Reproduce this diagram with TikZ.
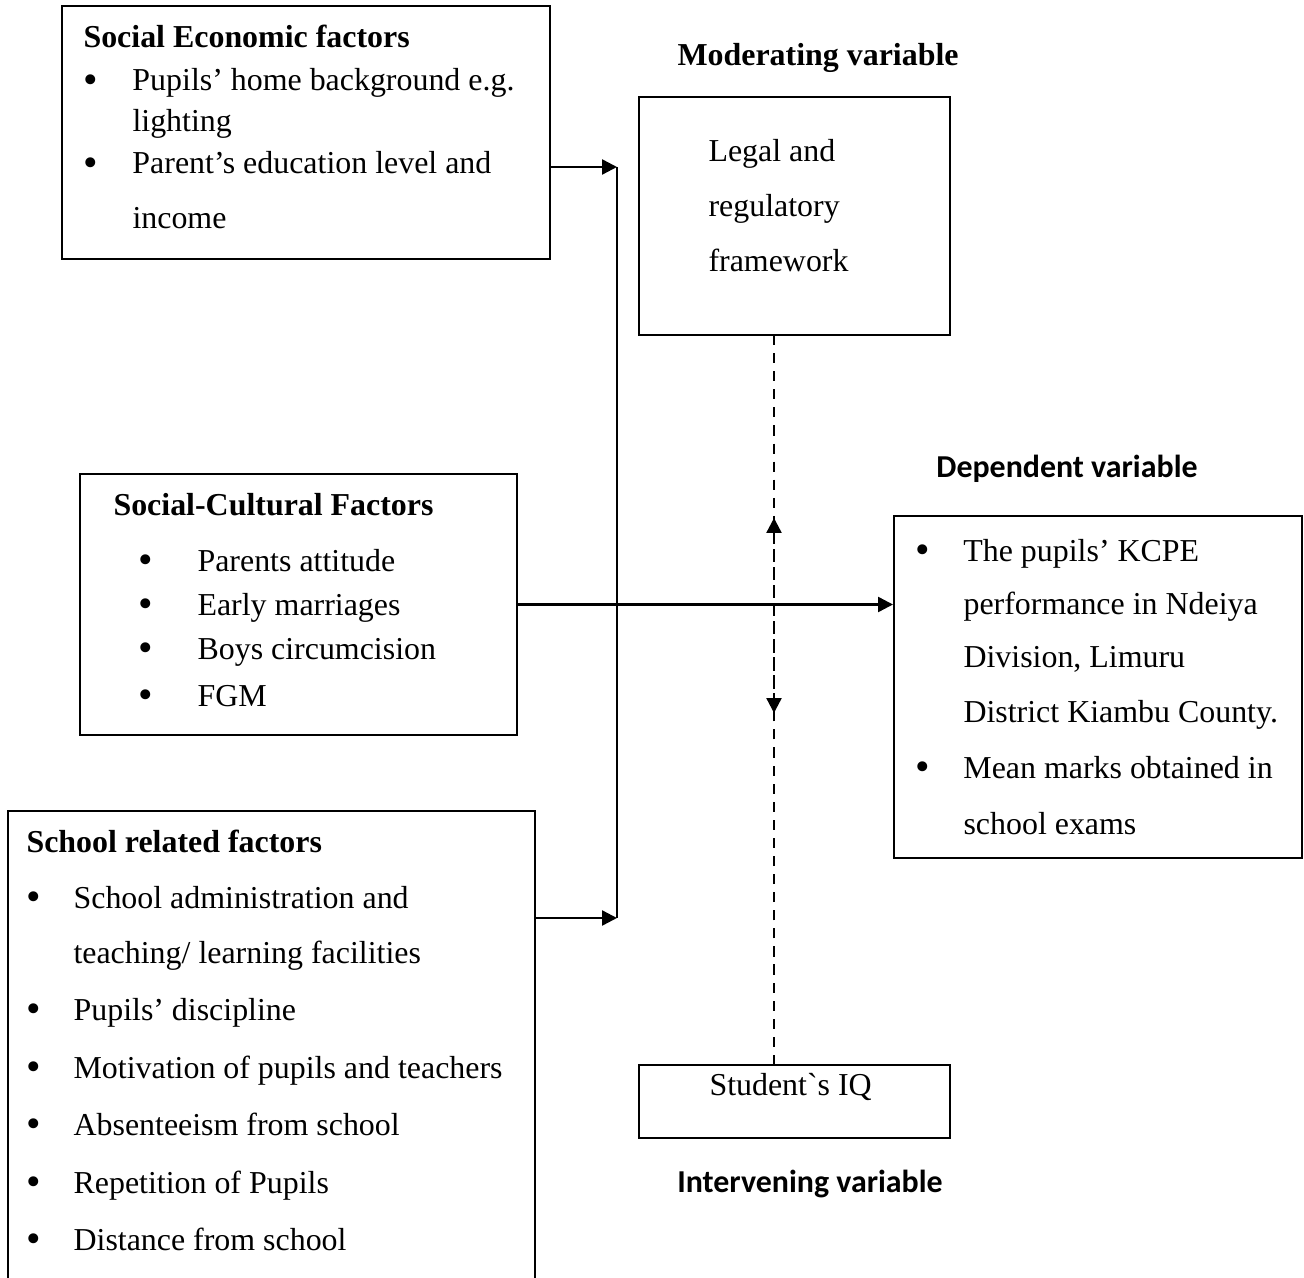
\documentclass[tikz,border=0pt]{standalone}
\usepackage{fontspec}
\usepackage{graphicx}
\setmainfont{Liberation Serif}
\newfontfamily\calibrifont{Carlito}
\usetikzlibrary{arrows.meta, fit, positioning}

% bullet followed by a fixed gap
\newcommand{\dotgap}[1]{\makebox[#1][l]{\raisebox{-1pt}{\scalebox{1.3}{\textbullet}}}}

\begin{document}
\begin{tikzpicture}[x=0.376pt, y=-0.376pt,
    >={Triangle[length=5.6pt, width=5.6pt]},
    box/.style={draw, line width=0.75pt, inner sep=0pt},
    txt/.style={anchor=base west, inner sep=0pt, font=\fontsize{12}{14}\selectfont},
    head/.style={txt, font=\fontsize{12}{14}\selectfont\bfseries},
    varlbl/.style={anchor=base, inner sep=0pt, font=\fontsize{12}{14}\selectfont\calibrifont\bfseries},
    conn/.style={line width=0.9pt},
    dashline/.style={conn, dash pattern=on 3.8pt off 3pt}]
    \path[use as bounding box, clip] (0,0) rectangle (1304,1278);

    % 1. Independent variables (left column)
    \node[box, fit={(62,6) (550,259)}] (socecon) {};
    \node[head] (socecon-t) at (83,48) {Social Economic factors};
    \node[txt] (socecon-a) at (83,91) {\dotgap{18.4pt}Pupils’ home background e.g.};
    \node[txt] (socecon-b) at (132,132) {lighting};
    \node[txt] (socecon-c) at (83,174) {\dotgap{18.4pt}Parent’s education level and};
    \node[txt] (socecon-d) at (132,229) {income};

    \node[box, fit={(80,474) (517,735)}] (soccult) {};
    \node[head] (soccult-t) at (113,515) {Social-Cultural Factors};
    \node[txt] (soccult-a) at (138,571) {\dotgap{22.2pt}Parents attitude};
    \node[txt] (soccult-b) at (138,615) {\dotgap{22.2pt}Early marriages};
    \node[txt] (soccult-c) at (138,659) {\dotgap{22.2pt}Boys circumcision};
    \node[txt] (soccult-d) at (138,706) {\dotgap{22.2pt}FGM};

    \node[box, fit={(8,811) (535,1300)}] (school) {};
    \node[head] (school-t) at (26,852) {School related factors};
    \node[txt] (school-a) at (26,908) {\dotgap{17.7pt}School administration and};
    \node[txt] (school-b) at (73,963) {teaching/ learning facilities};
    \node[txt] (school-c) at (26,1020) {\dotgap{17.7pt}Pupils’ discipline};
    \node[txt] (school-d) at (26,1078) {\dotgap{17.7pt}Motivation of pupils and teachers};
    \node[txt] (school-e) at (26,1135) {\dotgap{17.7pt}Absenteeism from school};
    \node[txt] (school-f) at (26,1193) {\dotgap{17.7pt}Repetition of Pupils};
    \node[txt] (school-g) at (26,1250) {\dotgap{17.7pt}Distance from school};

    % 2. Moderating and intervening variables (middle column)
    \node[head] (modlbl) at (677,66) {Moderating variable};
    \node[box, fit={(639,97) (950,335)}] (legal) {};
    \node[txt] (legal-a) at (708,162) {Legal and};
    \node[txt] (legal-b) at (708,217) {regulatory};
    \node[txt] (legal-c) at (708,272) {framework};

    \node[box, fit={(639,1065) (950,1138)}] (iq) {};
    \node[txt] (iq-a) at (709,1095) {Student\textasciigrave s IQ};
    \node[varlbl] (ivlbl) at (810,1192) {Intervening variable};

    % 3. Dependent variable (right column)
    \node[varlbl] (deplbl) at (1067,477) {Dependent variable};
    \node[box, fit={(894,516) (1302,858)}] (dep) {};
    \node[txt] (dep-a) at (915,561) {\dotgap{18pt}The pupils’ KCPE};
    \node[txt] (dep-b) at (963,614) {performance in Ndeiya};
    \node[txt] (dep-c) at (963,667) {Division, Limuru};
    \node[txt] (dep-d) at (963,722) {District Kiambu County.};
    \node[txt] (dep-e) at (915,778) {\dotgap{18pt}Mean marks obtained in};
    \node[txt] (dep-f) at (963,834) {school exams};

    % 4. Connectors
    \coordinate (bustop) at (617,167);
    \coordinate (busbot) at (617,918);
    \draw[conn, ->] (socecon.east |- bustop) -- (bustop);
    \draw[conn, ->] (school.east |- busbot) -- (busbot);
    \draw[conn] (bustop) -- (busbot);
    \draw[conn, ->] (soccult.east) -- (soccult.east -| dep.west);

    % dashed links between moderating and intervening boxes
    \coordinate (modfoot) at (774,335);
    \coordinate (ivhead) at (774,1065);
    \coordinate (uptip) at (774,518);
    \coordinate (downtip) at (774,713);
    \draw[dashline, ->] (modfoot) -- (downtip);
    \draw[dashline, ->] (ivhead) -- (uptip);
\end{tikzpicture}
\end{document}
